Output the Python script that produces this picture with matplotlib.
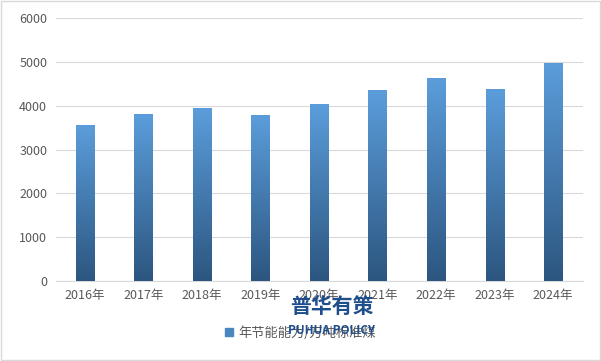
import numpy as np
import matplotlib.pyplot as plt
from matplotlib.colors import LinearSegmentedColormap

plt.rcParams['font.family'] = ['Noto Sans CJK SC', 'DejaVu Sans']

years = ['2016年', '2017年', '2018年', '2019年', '2020年', '2021年', '2022年', '2023年', '2024年']
values = [3560, 3810, 3950, 3790, 4040, 4360, 4630, 4380, 4985]
series_name = '年节能能力/万吨标准煤'

fig = plt.figure(figsize=(6.01, 3.61), dpi=100)
ax = fig.add_axes([55.5 / 601, 1 - 281 / 361, 527 / 601, (281 - 18.3) / 361])

x = np.arange(len(years))
bars = ax.bar(x, values, width=0.31, color='none', zorder=3, label=series_name)

cmap = LinearSegmentedColormap.from_list('g', ['#2c5680', '#5b9ddb'])
grad = np.linspace(0, 1, 256).reshape(-1, 1)
for b in bars:
    x0, w, h = b.get_x(), b.get_width(), b.get_height()
    im = ax.imshow(grad, extent=[x0, x0 + w, 0, h], origin='lower', cmap=cmap,
                   aspect='auto', zorder=3)
    im.set_clip_path(b)

ax.set_xlim(-0.5, len(years) - 0.5)
ax.set_ylim(0, 6000)
ax.set_yticks(range(0, 6001, 1000))
ax.set_xticks(x)
ax.set_xticklabels(years)
ax.grid(axis='y', color='#d9d9d9', linewidth=0.8, zorder=0)
for s in ax.spines.values():
    s.set_visible(False)
ax.spines['bottom'].set_visible(True)
ax.spines['bottom'].set_color('#d9d9d9')
ax.tick_params(length=0, labelsize=9, colors='#595959', pad=6)

# legend
handle = plt.Rectangle((0, 0), 1, 1, color='#4a86c0')
fig.legend([handle], [series_name], loc='center', bbox_to_anchor=(0.5, 1 - 333 / 361),
           frameon=False, fontsize=9.5, labelcolor='#595959', handlelength=0.6,
           handleheight=0.6, handletextpad=0.4)

# watermark
fig.text(332 / 601, 1 - 306 / 361, '普华有策', ha='center', va='center', fontsize=15,
         fontweight='bold', color='#1f4e8c', zorder=10)
fig.text(332 / 601, 1 - 330 / 361, 'PUHUA POLICY', ha='center', va='center', fontsize=8.5,
         fontweight='bold', color='#1f4e8c', zorder=10)

# outer border
fig.patches.append(plt.Rectangle((0.002, 0.002), 0.996, 0.996, transform=fig.transFigure,
                                 fill=False, edgecolor='#d9d9d9', linewidth=1))

fig.savefig('out.png', dpi=100)
